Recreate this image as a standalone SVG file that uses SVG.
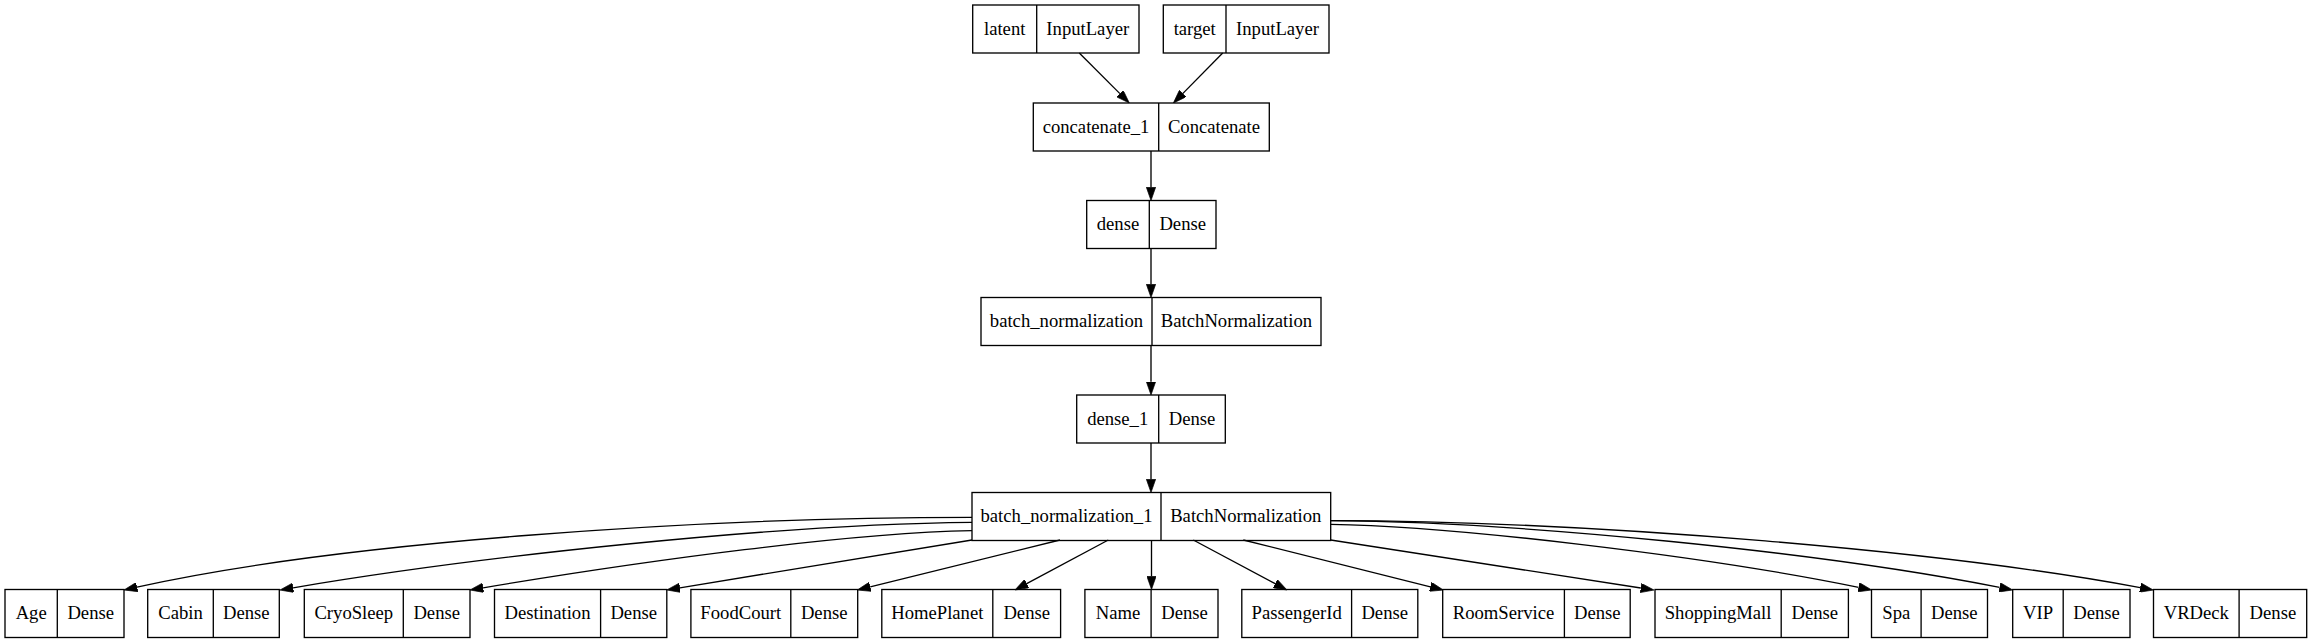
<svg xmlns="http://www.w3.org/2000/svg" width="2311" height="644" viewBox="0 0 2311 644" font-family="Liberation Serif, Times New Roman, serif">
<style>
.b{fill:none;stroke:#000;stroke-width:1.33}
.t{font-family:'Liberation Serif','Times New Roman',serif;font-size:18.67px;fill:#000;text-anchor:middle}
.e{fill:none;stroke:#000;stroke-width:1.33}
</style>
<defs>
<marker id="ah" viewBox="0 0 10 7" refX="0" refY="3.5" markerWidth="13.33" markerHeight="9.33" markerUnits="userSpaceOnUse" orient="auto">
<path d="M0,0 L10,3.5 L0,7 z" fill="#000" stroke="#000" stroke-width="0.5"/>
</marker>
</defs>
<rect width="2311" height="644" fill="#fff"/>
<g id="connectors">
<path class="e" marker-end="url(#ah)" d="M1079.3,53 L1119.9,93.6"/>
<path class="e" marker-end="url(#ah)" d="M1222.7,53 L1182.7,93.6"/>
<path class="e" marker-end="url(#ah)" d="M1151,151 L1151,187.2"/>
<path class="e" marker-end="url(#ah)" d="M1151,248.5 L1151,284.2"/>
<path class="e" marker-end="url(#ah)" d="M1151,345.5 L1151,381.7"/>
<path class="e" marker-end="url(#ah)" d="M1151,443 L1151,479.2"/>
<path class="e" marker-end="url(#ah)" d="M972,517.3 C700,517.3 340,542 137,587.1"/>
<path class="e" marker-end="url(#ah)" d="M972,522.3 C780,524 480,556 293.1,587.8"/>
<path class="e" marker-end="url(#ah)" d="M972,530.7 C850,533 650,560 483.1,587.8"/>
<path class="e" marker-end="url(#ah)" d="M972,540 L679.9,587.8"/>
<path class="e" marker-end="url(#ah)" d="M1060,540 L870.2,586.8"/>
<path class="e" marker-end="url(#ah)" d="M1108.3,540 L1026.7,583.7"/>
<path class="e" marker-end="url(#ah)" d="M1151.5,540.5 L1151.5,576.2"/>
<path class="e" marker-end="url(#ah)" d="M1193.3,540 L1275.2,583.7"/>
<path class="e" marker-end="url(#ah)" d="M1243.3,540 L1430.4,586.8"/>
<path class="e" marker-end="url(#ah)" d="M1330.7,540 L1640.8,588"/>
<path class="e" marker-end="url(#ah)" d="M1330.7,524.3 C1450,526 1700,555 1858.6,587.3"/>
<path class="e" marker-end="url(#ah)" d="M1330.7,520.7 C1520,522 1820,552 1999.6,587.4"/>
<path class="e" marker-end="url(#ah)" d="M1330.7,520.7 C1600,521 1950,552 2140.2,587.6"/>
</g>
<g id="latent"><rect class="b" x="972.7" y="5" width="166.3" height="48"/><line class="b" x1="1036.7" y1="5" x2="1036.7" y2="53"/><text class="t" x="1004.7" y="34.5">latent</text><text class="t" x="1087.8" y="34.5">InputLayer</text></g>
<g id="target"><rect class="b" x="1163.3" y="5" width="165.7" height="48"/><line class="b" x1="1226" y1="5" x2="1226" y2="53"/><text class="t" x="1194.7" y="34.5">target</text><text class="t" x="1277.5" y="34.5">InputLayer</text></g>
<g id="concatenate_1"><rect class="b" x="1033.3" y="103" width="236" height="48"/><line class="b" x1="1158.7" y1="103" x2="1158.7" y2="151"/><text class="t" x="1096" y="132.5">concatenate_1</text><text class="t" x="1214" y="132.5">Concatenate</text></g>
<g id="dense"><rect class="b" x="1086.7" y="200.5" width="129.3" height="48"/><line class="b" x1="1149.3" y1="200.5" x2="1149.3" y2="248.5"/><text class="t" x="1118" y="230">dense</text><text class="t" x="1182.7" y="230">Dense</text></g>
<g id="batch_normalization"><rect class="b" x="981" y="297.5" width="340" height="48"/><line class="b" x1="1152" y1="297.5" x2="1152" y2="345.5"/><text class="t" x="1066.5" y="327">batch_normalization</text><text class="t" x="1236.5" y="327">BatchNormalization</text></g>
<g id="dense_1"><rect class="b" x="1076.7" y="395" width="148.6" height="48"/><line class="b" x1="1158.7" y1="395" x2="1158.7" y2="443"/><text class="t" x="1117.7" y="424.5">dense_1</text><text class="t" x="1192" y="424.5">Dense</text></g>
<g id="batch_normalization_1"><rect class="b" x="972" y="492.5" width="358.7" height="48"/><line class="b" x1="1161" y1="492.5" x2="1161" y2="540.5"/><text class="t" x="1066.5" y="522">batch_normalization_1</text><text class="t" x="1245.8" y="522">BatchNormalization</text></g>
<g id="Age"><rect class="b" x="5" y="589.5" width="119" height="48"/><line class="b" x1="57.3" y1="589.5" x2="57.3" y2="637.5"/><text class="t" x="31.2" y="619">Age</text><text class="t" x="90.7" y="619">Dense</text></g>
<g id="Cabin"><rect class="b" x="147.7" y="589.5" width="131.6" height="48"/><line class="b" x1="213.3" y1="589.5" x2="213.3" y2="637.5"/><text class="t" x="180.5" y="619">Cabin</text><text class="t" x="246.3" y="619">Dense</text></g>
<g id="CryoSleep"><rect class="b" x="304.3" y="589.5" width="165.7" height="48"/><line class="b" x1="403.3" y1="589.5" x2="403.3" y2="637.5"/><text class="t" x="353.8" y="619">CryoSleep</text><text class="t" x="436.7" y="619">Dense</text></g>
<g id="Destination"><rect class="b" x="494.5" y="589.5" width="172.3" height="48"/><line class="b" x1="600.6" y1="589.5" x2="600.6" y2="637.5"/><text class="t" x="547.5" y="619">Destination</text><text class="t" x="633.7" y="619">Dense</text></g>
<g id="FoodCourt"><rect class="b" x="690.9" y="589.5" width="166.8" height="48"/><line class="b" x1="790.8" y1="589.5" x2="790.8" y2="637.5"/><text class="t" x="740.8" y="619">FoodCourt</text><text class="t" x="824.2" y="619">Dense</text></g>
<g id="HomePlanet"><rect class="b" x="881.8" y="589.5" width="178.8" height="48"/><line class="b" x1="992.8" y1="589.5" x2="992.8" y2="637.5"/><text class="t" x="937.3" y="619">HomePlanet</text><text class="t" x="1026.7" y="619">Dense</text></g>
<g id="Name"><rect class="b" x="1084.9" y="589.5" width="133.1" height="48"/><line class="b" x1="1151.1" y1="589.5" x2="1151.1" y2="637.5"/><text class="t" x="1118" y="619">Name</text><text class="t" x="1184.5" y="619">Dense</text></g>
<g id="PassengerId"><rect class="b" x="1241.8" y="589.5" width="176" height="48"/><line class="b" x1="1351.6" y1="589.5" x2="1351.6" y2="637.5"/><text class="t" x="1296.7" y="619">PassengerId</text><text class="t" x="1384.7" y="619">Dense</text></g>
<g id="RoomService"><rect class="b" x="1442.7" y="589.5" width="187.5" height="48"/><line class="b" x1="1564.4" y1="589.5" x2="1564.4" y2="637.5"/><text class="t" x="1503.5" y="619">RoomService</text><text class="t" x="1597.3" y="619">Dense</text></g>
<g id="ShoppingMall"><rect class="b" x="1655" y="589.5" width="193.4" height="48"/><line class="b" x1="1781.2" y1="589.5" x2="1781.2" y2="637.5"/><text class="t" x="1718.1" y="619">ShoppingMall</text><text class="t" x="1814.8" y="619">Dense</text></g>
<g id="Spa"><rect class="b" x="1871.5" y="589.5" width="116" height="48"/><line class="b" x1="1921.1" y1="589.5" x2="1921.1" y2="637.5"/><text class="t" x="1896.3" y="619">Spa</text><text class="t" x="1954.3" y="619">Dense</text></g>
<g id="VIP"><rect class="b" x="2012.7" y="589.5" width="117.3" height="48"/><line class="b" x1="2063.2" y1="589.5" x2="2063.2" y2="637.5"/><text class="t" x="2038" y="619">VIP</text><text class="t" x="2096.6" y="619">Dense</text></g>
<g id="VRDeck"><rect class="b" x="2153.5" y="589.5" width="153.2" height="48"/><line class="b" x1="2239.1" y1="589.5" x2="2239.1" y2="637.5"/><text class="t" x="2196.3" y="619">VRDeck</text><text class="t" x="2272.9" y="619">Dense</text></g>
</svg>
